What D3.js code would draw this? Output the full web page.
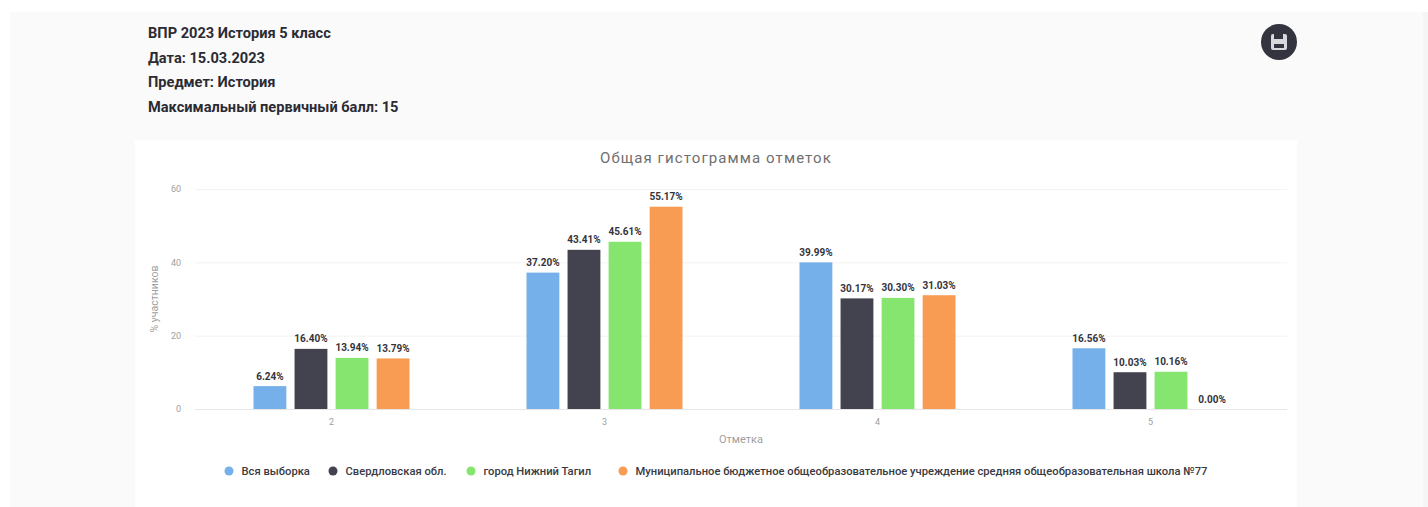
<!DOCTYPE html>
<html lang="ru">
<head>
<meta charset="utf-8">
<script src="https://cdn.jsdelivr.net/npm/d3@7"></script>
<style>
html, body { margin: 0; padding: 0; background: #fff; }
svg { display: block; font-family: Roboto, sans-serif; }
</style>
</head>
<body>
<div id="drawing"></div>
<script>
"use strict"

/**** DATA ****/
let headerLines = [
  "ВПР 2023 История 5 класс",
  "Дата: 15.03.2023",
  "Предмет: История",
  "Максимальный первичный балл: 15"
]
let grades = ["2", "3", "4", "5"]
let seriesNames = [
  "Вся выборка",
  "Свердловская обл.",
  "город Нижний Тагил",
  "Муниципальное бюджетное общеобразовательное учреждение средняя общеобразовательная школа №77"
]
let allSample = [6.24, 37.20, 39.99, 16.56]
let region = [16.40, 43.41, 30.17, 10.03]
let city = [13.94, 45.61, 30.30, 10.16]
let school = [13.79, 55.17, 31.03, 0.00]
let seriesValues = [allSample, region, city, school]
let colors = ["#75b0eb", "#43434f", "#85e56f", "#f79c52"]
let yTicks = [0, 20, 40, 60]

/**** CANVAS ****/
let svgWidth = 1428
let svgHeight = 507
let leftMargin = 195
let rightEdge = 1287
let topEdge = 189
let baseline = 409

let svg = d3.select("#drawing").append("svg")
  .attr("width", svgWidth)
  .attr("height", svgHeight)

/* page panel and chart card */
svg.append("rect").attr("x", 10).attr("y", 12).attr("width", 1413).attr("height", 495).attr("fill", "#fafafa")
svg.append("rect").attr("x", 1423).attr("y", 12).attr("width", 5).attr("height", 495).attr("fill", "#f5f5f5")
svg.append("rect").attr("x", 135).attr("y", 140).attr("width", 1162).attr("height", 367).attr("fill", "#ffffff")

/**** HEADER ****/
svg.selectAll("text.header")
  .data(headerLines)
  .join("text")
  .attr("class", "header")
  .attr("x", 148)
  .attr("y", (d, i) => 38 + i * 24.5)
  .attr("font-size", 14.6)
  .attr("font-weight", 700)
  .attr("fill", "#2b2b33")
  .text(d => d)

/* save button */
let save = svg.append("g").attr("transform", "translate(1279,42)")
save.append("circle").attr("r", 18).attr("fill", "#33343f")
save.append("rect").attr("x", -8).attr("y", -8).attr("width", 16).attr("height", 16).attr("rx", 2).attr("fill", "#d8d8dc")
save.append("rect").attr("x", -5).attr("y", -8).attr("width", 9).attr("height", 5).attr("fill", "#33343f")
save.append("rect").attr("x", -5).attr("y", 2).attr("width", 10).attr("height", 4).attr("fill", "#33343f")

/**** SCALES ****/
let xScale = d3.scaleBand()
  .domain(grades)
  .range([leftMargin, rightEdge])

let seriesScale = d3.scaleBand()
  .domain(d3.range(seriesNames.length))
  .range([xScale.bandwidth() / 2 - 78, xScale.bandwidth() / 2 + 78])
  .paddingInner(0.2)

let yScale = d3.scaleLinear()
  .domain([0, 60])
  .range([baseline, topEdge])

/**** GRID AND AXES ****/
svg.append("g")
  .attr("transform", `translate(${leftMargin},0)`)
  .call(d3.axisLeft(yScale).tickValues(yTicks).tickSize(-(rightEdge - leftMargin)).tickPadding(14))
  .call(g => g.select(".domain").remove())
  .call(g => g.selectAll("line").attr("stroke", d => d === 0 ? "#e6e6e6" : "#f3f3f3"))
  .call(g => g.selectAll("text").attr("font-size", 9).attr("fill", "#a0a0a0").attr("font-family", "Roboto"))

svg.append("g")
  .attr("transform", `translate(0,${baseline})`)
  .call(d3.axisBottom(xScale).tickSize(0).tickPadding(10))
  .call(g => g.select(".domain").remove())
  .call(g => g.selectAll("text").attr("font-size", 9).attr("fill", "#a0a0a0").attr("font-family", "Roboto"))

/**** TITLES ****/
svg.append("text")
  .attr("x", 716).attr("y", 163)
  .attr("text-anchor", "middle")
  .attr("font-size", 15)
  .attr("letter-spacing", 1.1)
  .attr("fill", "#6f6f6f")
  .text("Общая гистограмма отметок")

svg.append("text")
  .attr("x", 741).attr("y", 443)
  .attr("text-anchor", "middle")
  .attr("font-size", 11)
  .attr("fill", "#a0a0a0")
  .text("Отметка")

svg.append("text")
  .attr("transform", "translate(158,299) rotate(-90)")
  .attr("text-anchor", "middle")
  .attr("font-size", 10.5)
  .attr("fill", "#a0a0a0")
  .text("% участников")

/**** BARS ****/
let groups = svg.selectAll("g.series")
  .data(seriesValues)
  .join("g")
  .attr("class", "series")

groups.each(function (values, s) {
  let points = values.map((v, i) => ({ grade: grades[i], value: v }))
  let g = d3.select(this)

  g.selectAll("rect")
    .data(points)
    .join("rect")
    .attr("x", d => xScale(d.grade) + seriesScale(s))
    .attr("y", d => yScale(d.value))
    .attr("width", seriesScale.bandwidth())
    .attr("height", d => baseline - yScale(d.value))
    .attr("fill", colors[s])

  g.selectAll("text")
    .data(points)
    .join("text")
    .attr("x", d => xScale(d.grade) + seriesScale(s) + seriesScale.bandwidth() / 2)
    .attr("y", d => yScale(d.value) - 6.5)
    .attr("text-anchor", "middle")
    .attr("font-size", 10)
    .attr("font-weight", 700)
    .attr("fill", "#34343c")
    .text(d => d.value.toFixed(2) + "%")
})

/**** LEGEND ****/
let legendX = [229, 333, 471, 623]

let legend = svg.selectAll("g.legend")
  .data(seriesNames)
  .join("g")
  .attr("class", "legend")
  .attr("transform", (d, i) => `translate(${legendX[i]},471)`)

legend.append("circle")
  .attr("r", 4.5)
  .attr("fill", (d, i) => colors[i])

legend.append("text")
  .attr("x", 12.5)
  .attr("y", 3.5)
  .attr("font-size", 11.2)
  .attr("font-weight", 500)
  .attr("fill", "#3a3a42")
  .text(d => d)
</script>
</body>
</html>
